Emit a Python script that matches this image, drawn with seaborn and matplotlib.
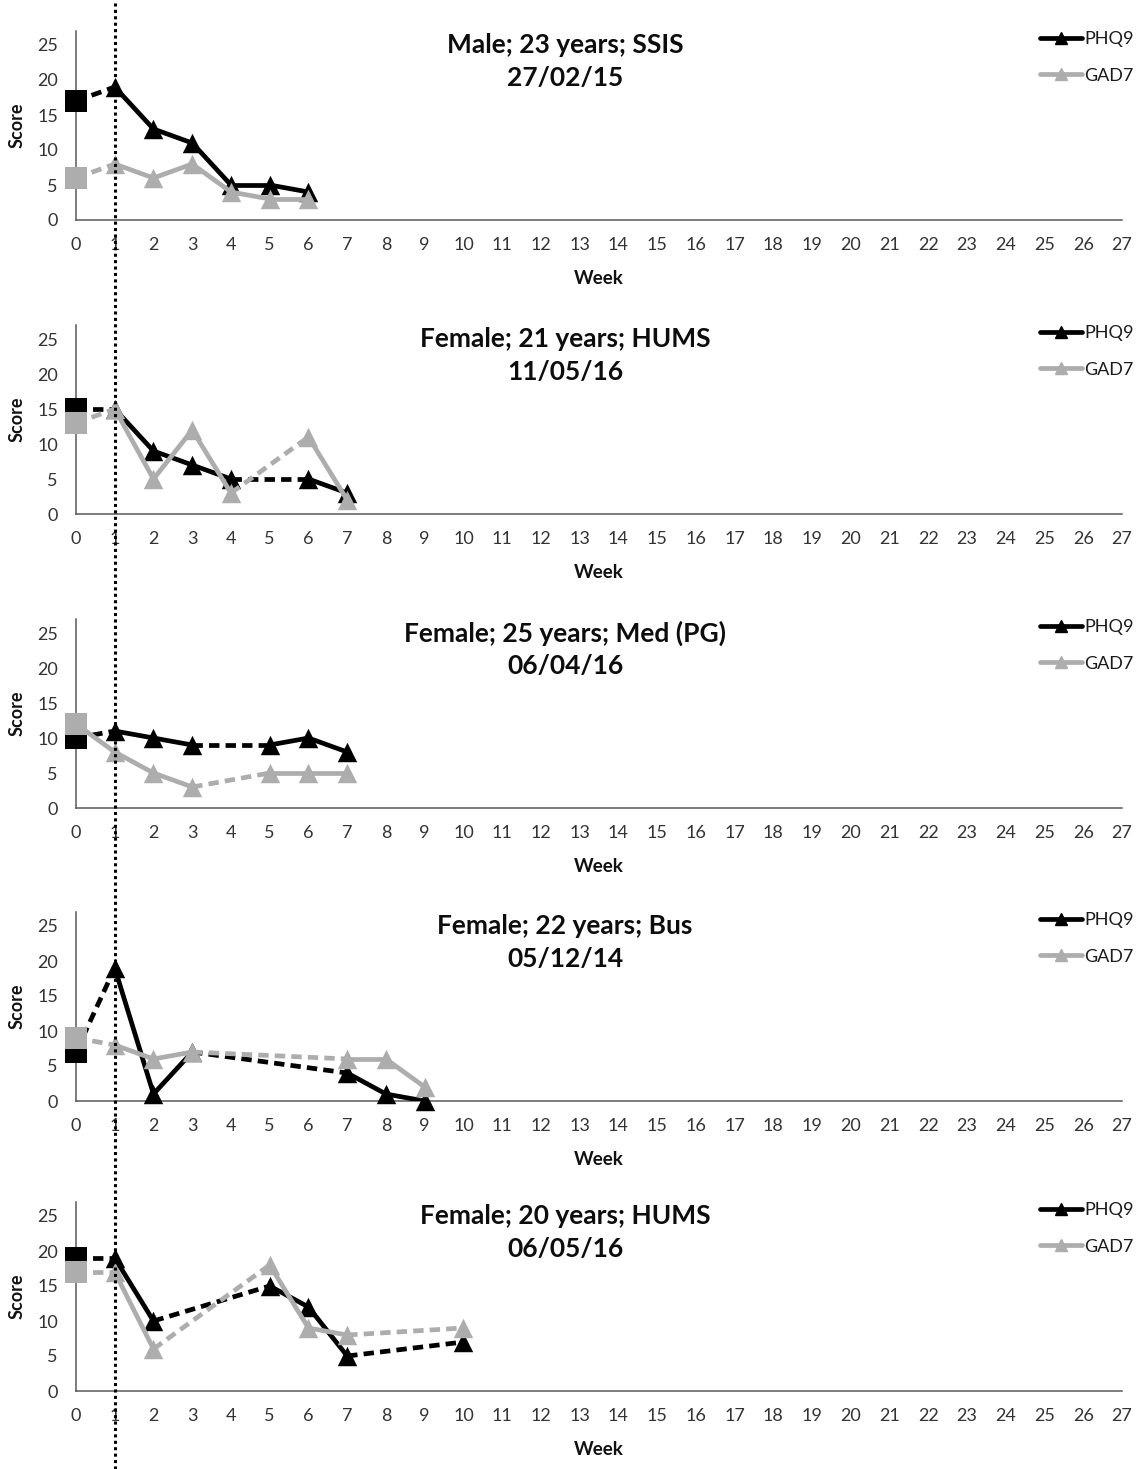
import numpy as np
import pandas as pd
import matplotlib
matplotlib.use("Agg")
import matplotlib.pyplot as plt
from matplotlib.lines import Line2D
import seaborn as sns

sns.set_theme(style="white")
plt.rcParams["font.family"] = ["Lato", "DejaVu Sans"]

# ---- data -----------------------------------------------------------------
titles = ["Male; 23 years; SSIS", "Female; 21 years; HUMS",
          "Female; 25 years; Med (PG)", "Female; 22 years; Bus",
          "Female; 20 years; HUMS"]
dates = ["27/02/15", "11/05/16", "06/04/16", "05/12/14", "06/05/16"]

# baseline scores (week 0, square markers)
phq_baseline = [17, 15, 10, 7, 19]
gad_baseline = [6, 13, 12, 9, 17]
# whether the baseline -> first session link is dashed
phq_base_dashed = [True, True, True, True, True]
gad_base_dashed = [True, True, False, True, True]

# session weeks and scores per participant
weeks = [
    [1, 2, 3, 4, 5, 6],
    [1, 2, 3, 4, 6, 7],
    [1, 2, 3, 5, 6, 7],
    [1, 2, 3, 7, 8, 9],
    [1, 2, 5, 6, 7, 10],
]
phq_scores = [
    [19, 13, 11, 5, 5, 4],
    [15, 9, 7, 5, 5, 3],
    [11, 10, 9, 9, 10, 8],
    [19, 1, 7, 4, 1, 0],
    [19, 10, 15, 12, 5, 7],
]
gad_scores = [
    [8, 6, 8, 4, 3, 3],
    [15, 5, 12, 3, 11, 2],
    [8, 5, 3, 5, 5, 5],
    [8, 6, 7, 6, 6, 2],
    [17, 6, 18, 9, 8, 9],
]

x_ticks = list(range(0, 28))
y_ticks = [0, 5, 10, 15, 20, 25]
series_names = ["PHQ9", "GAD7"]
series_colors = {"PHQ9": "#000000", "GAD7": "#ADADAD"}

# ---- layout ---------------------------------------------------------------
W, H = 1143, 1469
fig = plt.figure(figsize=(W / 100, H / 100), dpi=100)
left_px, right_px = 76, 1122
axis_bottoms_px = [220, 514, 808, 1101, 1391]
panel_h_px = 189

tick_color = "#333333"


def segments(base, base_dashed, wk, sc):
    xs = [0] + list(wk)
    ys = [base] + list(sc)
    rows = []
    for i in range(len(xs) - 1):
        dashed = (i == 0 and base_dashed) or (i > 0 and xs[i + 1] - xs[i] > 1)
        st = "dashed" if dashed else "solid"
        rows.append({"seg": i, "week": xs[i], "score": ys[i], "style": st})
        rows.append({"seg": i, "week": xs[i + 1], "score": ys[i + 1], "style": st})
    return pd.DataFrame(rows)


axes = []
for p in range(5):
    yb = axis_bottoms_px[p]
    rect = [left_px / W, 1 - yb / H, (right_px - left_px) / W, panel_h_px / H]
    ax = fig.add_axes(rect)
    axes.append(ax)

    series = {
        "PHQ9": (phq_baseline[p], phq_base_dashed[p], phq_scores[p]),
        "GAD7": (gad_baseline[p], gad_base_dashed[p], gad_scores[p]),
    }
    z = 3
    for name in series_names:
        base, bd, sc = series[name]
        col = series_colors[name]
        seg_df = segments(base, bd, weeks[p], sc)
        sns.lineplot(data=seg_df, x="week", y="score", units="seg", style="style",
                     dashes={"solid": "", "dashed": (2.2, 1.3)},
                     estimator=None, sort=False, color=col, linewidth=3.4,
                     legend=False, ax=ax, zorder=z)
        pts = pd.DataFrame({"week": weeks[p], "score": sc})
        sns.scatterplot(data=pts, x="week", y="score", marker="^", s=14 ** 2,
                        color=col, linewidth=0, ax=ax, zorder=z + 1,
                        clip_on=False, legend=False)
        z += 2
    for name in series_names:
        base = series[name][0]
        bdf = pd.DataFrame({"week": [0], "score": [base]})
        sns.scatterplot(data=bdf, x="week", y="score", marker="s", s=16 ** 2,
                        color=series_colors[name], linewidth=0, ax=ax,
                        zorder=z, clip_on=False, legend=False)
        z += 1

    ax.set_xlim(0, 27)
    ax.set_ylim(0, 27)
    ax.set_xticks(x_ticks)
    ax.set_yticks(y_ticks)
    ax.tick_params(axis="both", length=0, labelsize=13, colors=tick_color)
    ax.tick_params(axis="x", pad=12)
    ax.tick_params(axis="y", pad=13)
    for s in ["top", "right"]:
        ax.spines[s].set_visible(False)
    for s in ["left", "bottom"]:
        ax.spines[s].set_color("#595959")
        ax.spines[s].set_linewidth(1.1)
    ax.set_xlabel("Week", fontsize=13.5, fontweight="bold", color="#111111")
    ax.set_ylabel("Score", fontsize=13, fontweight="bold", color="#111111")
    ax.xaxis.set_label_coords(0.5, -0.265)
    ax.yaxis.set_label_coords(-0.048, 0.5)

    ax.text(0.4675, 0.926, titles[p], transform=ax.transAxes, ha="center",
            va="center", fontsize=19, fontweight="bold", color="#0d0d0d")
    ax.text(0.4675, 0.751, dates[p], transform=ax.transAxes, ha="center",
            va="center", fontsize=19, fontweight="bold", color="#0d0d0d")

    handles = [Line2D([], [], color=series_colors[n], lw=3.4, marker="^",
                      markersize=9) for n in series_names]
    leg = ax.legend(handles, series_names, loc="upper left",
                    bbox_to_anchor=((1040 - left_px) / (right_px - left_px), 1.0),
                    frameon=False, fontsize=13, handlelength=2.3,
                    handletextpad=0.15, labelspacing=1.15, borderpad=0,
                    borderaxespad=0)
    for t in leg.get_texts():
        t.set_color("#1a1a1a")

# dotted reference line at week 1 spanning the whole figure
fig.canvas.draw()
x_disp = axes[0].transData.transform((1, 0))[0]
x_fig = fig.transFigure.inverted().transform((x_disp, 0))[0]
fig.add_artist(Line2D([x_fig, x_fig], [0, 1], transform=fig.transFigure,
                      color="black", lw=2.2, linestyle=(0, (1, 1.1)), zorder=20))

fig.savefig("out.png", dpi=100)
